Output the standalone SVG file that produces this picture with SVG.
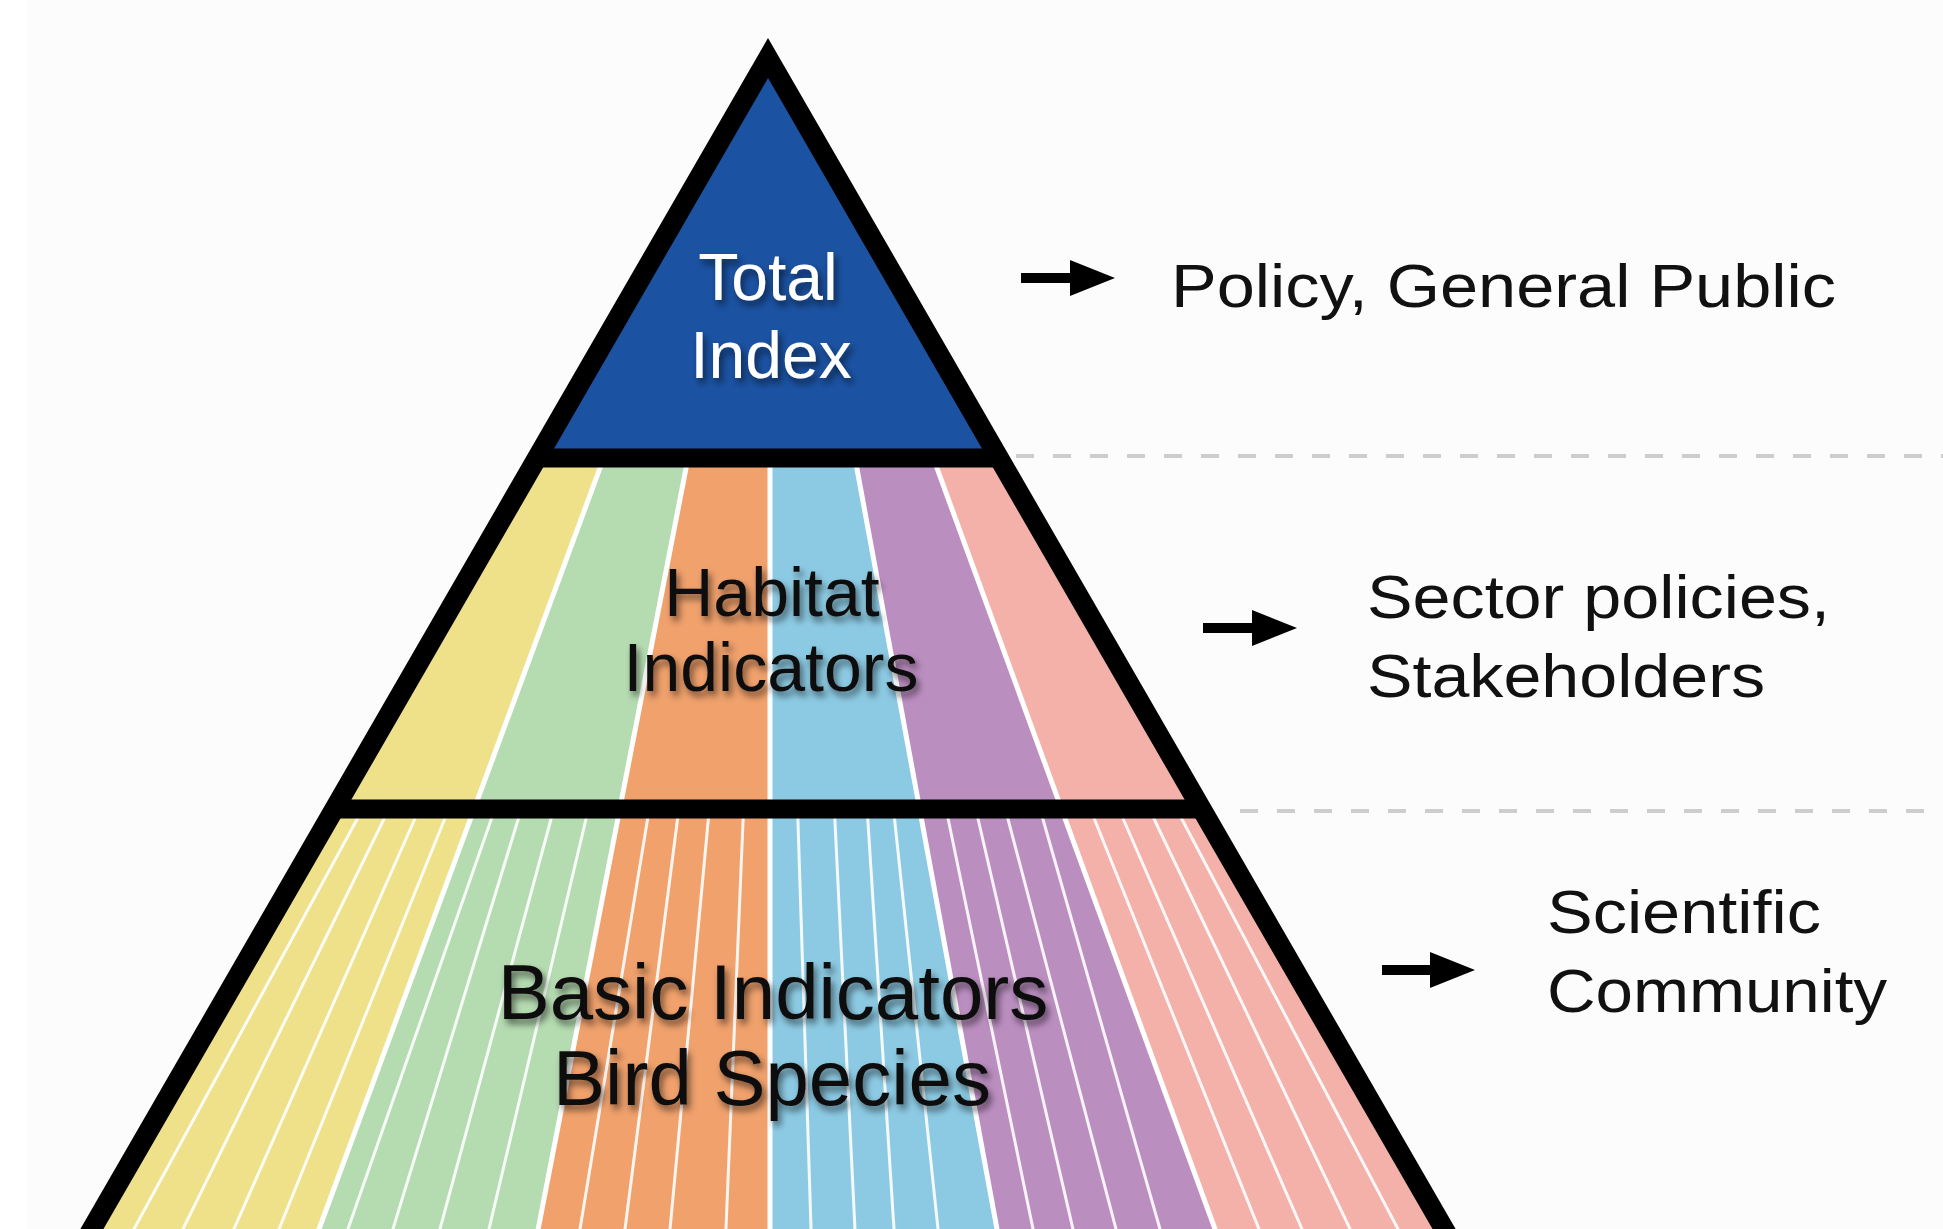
<svg xmlns="http://www.w3.org/2000/svg" width="1943" height="1229" viewBox="0 0 1943 1229">
<style>
.lbl{font-family:"Liberation Sans",Arial,Helvetica,sans-serif;fill:#111;}
.side{font-size:62px;}
.pyr{font-size:68px;text-anchor:middle;}
.top{font-size:66px;text-anchor:middle;fill:#ffffff;}
.big{font-size:78px;text-anchor:middle;}
.edge{fill:none;stroke:#000;stroke-width:20;stroke-linejoin:miter;stroke-miterlimit:4;}
.div{stroke:#000;stroke-width:19;stroke-linecap:butt;}
.bnd{stroke:#fff;stroke-width:5;}
.thin{stroke:#fff;stroke-width:3;opacity:0.9;}
.dash{stroke:#cdcdcd;stroke-width:4;stroke-dasharray:18 19;}
.arr{stroke:#000;stroke-width:10;marker-end:url(#ah);}
</style>
<defs>
<marker id="ah" viewBox="0 0 45 36" refX="15" refY="18" markerWidth="45" markerHeight="36" markerUnits="userSpaceOnUse" orient="auto">
<path d="M0,0 L45,18 L0,36 Z" fill="#000"/>
</marker>
<clipPath id="tri"><polygon points="768,58 74,1260 1462,1260"/></clipPath>
<clipPath id="low"><rect x="0" y="809" width="1943" height="460"/></clipPath>
<filter id="ts" x="-10%" y="-30%" width="125%" height="170%">
<feGaussianBlur in="SourceAlpha" stdDeviation="3.5"/>
<feOffset dx="3" dy="5" result="o"/>
<feComponentTransfer><feFuncA type="linear" slope="0.55"/></feComponentTransfer>
<feMerge><feMergeNode/><feMergeNode in="SourceGraphic"/></feMerge>
</filter>
</defs>

<rect x="0" y="0" width="1943" height="1229" fill="#fcfcfc"/>
<rect x="0" y="0" width="26" height="1229" fill="#ffffff"/>

<g id="pyramid">
<g clip-path="url(#tri)">
<polygon id="top-fill" points="768,58 537,458 999,458" fill="#1b52a2"/>
<g id="colors">
<polygon points="0,458 603.7,458 315,1240 0,1240" fill="#efe08a"/>
<polygon points="603.7,458 688,458 536,1240 315,1240" fill="#b5dbb1"/>
<polygon points="688,458 770,458 770,1240 536,1240" fill="#f0a16c"/>
<polygon points="770,458 855,458 999,1240 770,1240" fill="#8ccae3"/>
<polygon points="855,458 933.3,458 1219,1240 999,1240" fill="#bb8ec0"/>
<polygon points="933.3,458 1943,458 1943,1240 1219,1240" fill="#f3b1aa"/>
</g>
<g id="thin-lines" clip-path="url(#low)">
<line class="thin" x1="362.1" y1="810" x2="128" y2="1240"/>
<line class="thin" x1="388.4" y1="810" x2="177.6" y2="1240"/>
<line class="thin" x1="418.7" y1="810" x2="229.1" y2="1240"/>
<line class="thin" x1="448.3" y1="810" x2="274.6" y2="1240"/>
<line class="thin" x1="494.5" y1="810" x2="344.1" y2="1240"/>
<line class="thin" x1="521" y1="810" x2="389.6" y2="1240"/>
<line class="thin" x1="553.5" y1="810" x2="437" y2="1240"/>
<line class="thin" x1="588.1" y1="810" x2="486.4" y2="1240"/>
<line class="thin" x1="649.1" y1="810" x2="578.2" y2="1240"/>
<line class="thin" x1="678.7" y1="810" x2="623.6" y2="1240"/>
<line class="thin" x1="709.2" y1="810" x2="669" y2="1240"/>
<line class="thin" x1="743.5" y1="810" x2="725.5" y2="1240"/>
<line class="thin" x1="797.6" y1="810" x2="811.4" y2="1240"/>
<line class="thin" x1="834.4" y1="810" x2="855.5" y2="1240"/>
<line class="thin" x1="867.2" y1="810" x2="894.7" y2="1240"/>
<line class="thin" x1="893.6" y1="810" x2="939.2" y2="1240"/>
<line class="thin" x1="946.3" y1="810" x2="1035.3" y2="1240"/>
<line class="thin" x1="976" y1="810" x2="1075.5" y2="1240"/>
<line class="thin" x1="1005.6" y1="810" x2="1118.9" y2="1240"/>
<line class="thin" x1="1040.3" y1="810" x2="1163.1" y2="1240"/>
<line class="thin" x1="1090.8" y1="810" x2="1263.4" y2="1240"/>
<line class="thin" x1="1119.3" y1="810" x2="1306.8" y2="1240"/>
<line class="thin" x1="1149.8" y1="810" x2="1355.3" y2="1240"/>
<line class="thin" x1="1177.1" y1="810" x2="1403.8" y2="1240"/>
</g>
<g id="boundaries">
<line class="bnd" x1="603.7" y1="458" x2="315" y2="1240"/>
<line class="bnd" x1="688" y1="458" x2="536" y2="1240"/>
<line class="bnd" x1="770" y1="458" x2="770" y2="1240"/>
<line class="bnd" x1="855" y1="458" x2="999" y2="1240"/>
<line class="bnd" x1="933.3" y1="458" x2="1219" y2="1240"/>
</g>
</g>
<line class="div" x1="537" y1="458" x2="999" y2="458"/>
<line class="div" x1="334.4" y1="809" x2="1201.6" y2="809"/>
<path class="edge" d="M74,1260 L768,58 L1462,1260"/>
</g>

<g id="node-total" filter="url(#ts)">
<text class="lbl top" x="768" y="300">Total</text>
<text class="lbl top" x="771" y="378">Index</text>
</g>
<g id="node-habitat" filter="url(#ts)">
<text class="lbl pyr" x="772" y="616">Habitat</text>
<text class="lbl pyr" x="771" y="691">Indicators</text>
</g>
<g id="node-basic" filter="url(#ts)">
<text class="lbl big" x="773" y="1019">Basic Indicators</text>
<text class="lbl big" x="772" y="1105">Bird Species</text>
</g>

<g id="separators">
<line class="dash" x1="1016" y1="456" x2="1943" y2="456"/>
<line class="dash" x1="1240" y1="811" x2="1943" y2="811"/>
</g>

<g id="connectors">
<line class="arr" x1="1021" y1="278" x2="1085" y2="278"/>
<line class="arr" x1="1203" y1="628" x2="1267" y2="628"/>
<line class="arr" x1="1382" y1="970" x2="1445" y2="970"/>
</g>

<g id="node-policy">
<text class="lbl side" x="1171" y="307" textLength="665" lengthAdjust="spacingAndGlyphs">Policy, General Public</text>
</g>
<g id="node-sector">
<text class="lbl side" x="1367" y="618" textLength="463" lengthAdjust="spacingAndGlyphs">Sector policies,</text>
<text class="lbl side" x="1367" y="697" textLength="398" lengthAdjust="spacingAndGlyphs">Stakeholders</text>
</g>
<g id="node-science">
<text class="lbl side" x="1547" y="933" textLength="274" lengthAdjust="spacingAndGlyphs">Scientific</text>
<text class="lbl side" x="1547" y="1012" textLength="340" lengthAdjust="spacingAndGlyphs">Community</text>
</g>
</svg>
